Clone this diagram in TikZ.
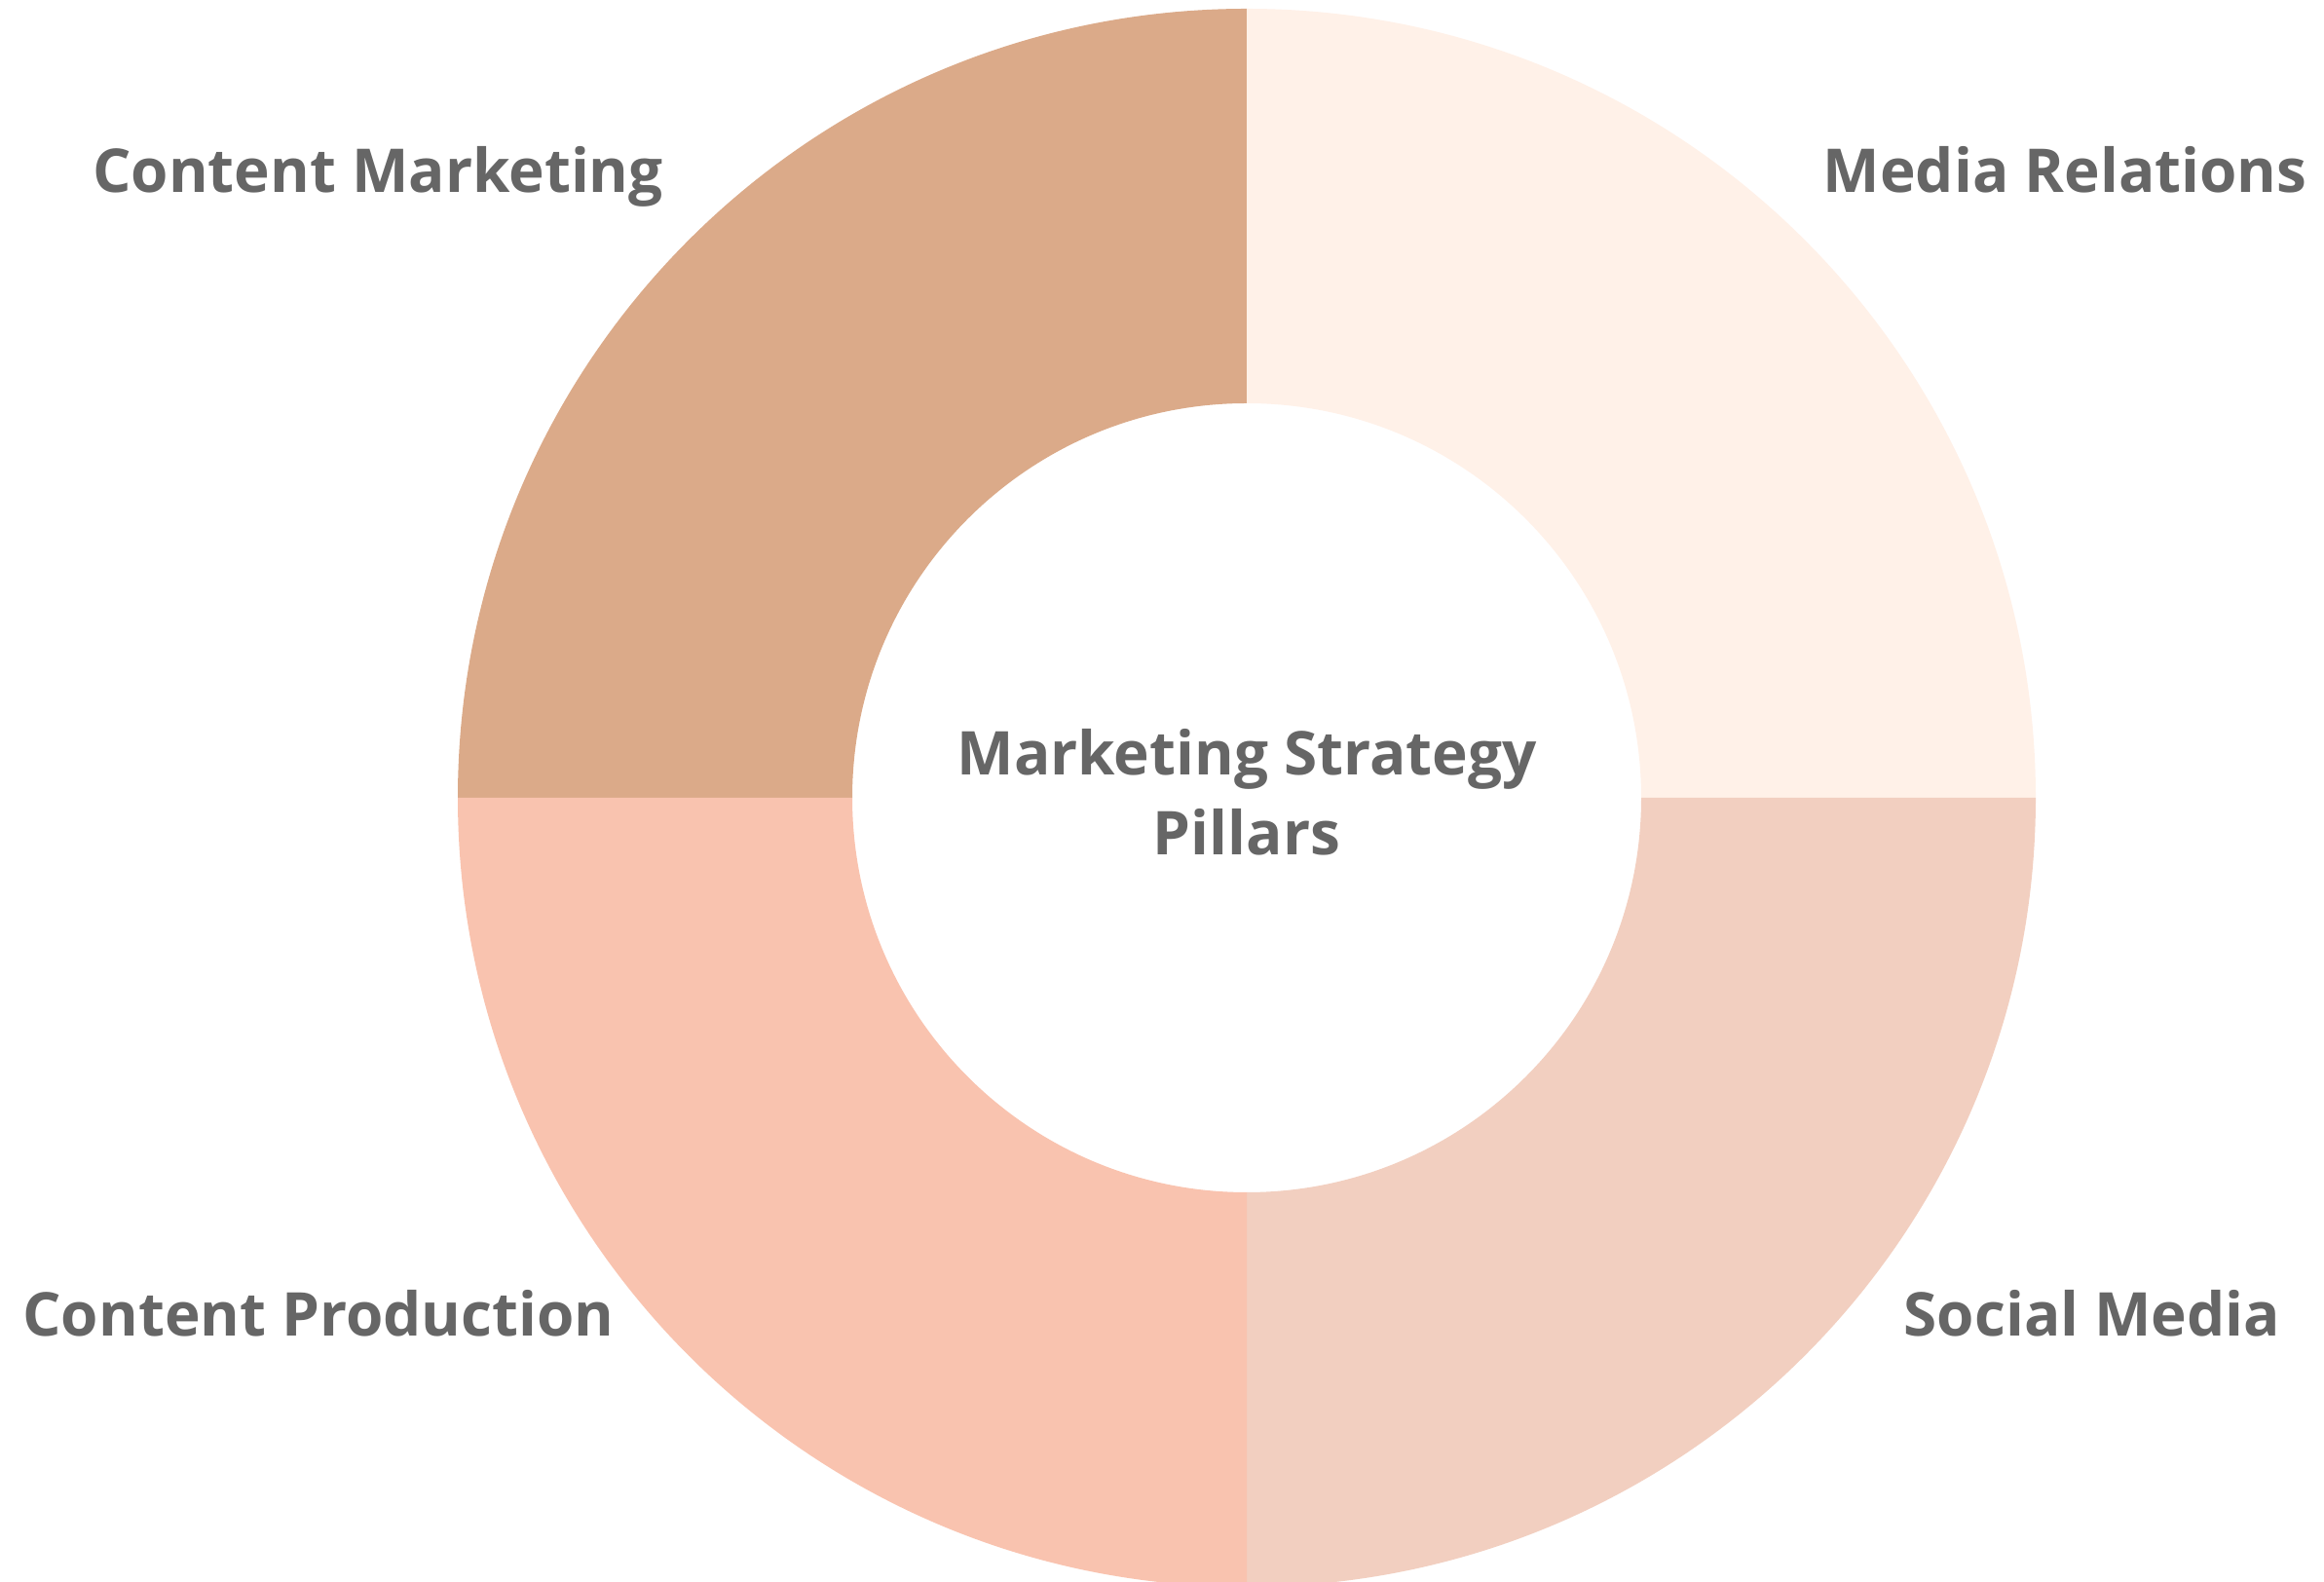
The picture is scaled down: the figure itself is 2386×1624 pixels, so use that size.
\documentclass[tikz,border=0pt]{standalone}
\usepackage{fontspec}
\setmainfont{Open Sans}
\definecolor{txt}{HTML}{666666}
\definecolor{cmkt}{HTML}{DBAA89}
\definecolor{mrel}{HTML}{FFF1E8}
\definecolor{cprod}{HTML}{F9C3AF}
\definecolor{smed}{HTML}{F2CFC0}
\tikzset{
  lbl/.style={inner sep=0pt, outer sep=0pt, text=txt, font=\fontsize{62}{82}\selectfont\bfseries, anchor=base},
}
\begin{document}
\begin{tikzpicture}[x=1pt,y=1pt]
\useasboundingbox (0,0) rectangle (2386,1624);
\fill[white] (0,0) rectangle (2386,1624);
\coordinate (c) at (1280,805);
\def\Ro{810}
\def\Ri{405}
% Content Marketing (top-left)
\fill[cmkt] (c) ++(90:\Ro) arc[start angle=90,end angle=180,radius=\Ro] -- ++(\Ro-\Ri,0) arc[start angle=180,end angle=90,radius=\Ri] -- cycle;
% Media Relations (top-right)
\fill[mrel] (c) ++(0:\Ro) arc[start angle=0,end angle=90,radius=\Ro] -- ++(0,\Ri-\Ro) arc[start angle=90,end angle=0,radius=\Ri] -- cycle;
% Social Media (bottom-right)
\fill[smed] (c) ++(270:\Ro) arc[start angle=270,end angle=360,radius=\Ro] -- ++(\Ri-\Ro,0) arc[start angle=360,end angle=270,radius=\Ri] -- cycle;
% Content Production (bottom-left)
\fill[cprod] (c) ++(180:\Ro) arc[start angle=180,end angle=270,radius=\Ro] -- ++(0,\Ro-\Ri) arc[start angle=270,end angle=180,radius=\Ri] -- cycle;
% labels
\node[lbl] (lcm) at (388,1426) {Content Marketing};
\node[lbl] (lmr) at (2120,1426) {Media Relations};
\node[lbl] (lcp) at (327,252) {Content Production};
\node[lbl] (lsm) at (2148,252) {Social Media};
\node[lbl, align=center] (title) at (1280,746) {Marketing Strategy\\Pillars};
\end{tikzpicture}
\end{document}
